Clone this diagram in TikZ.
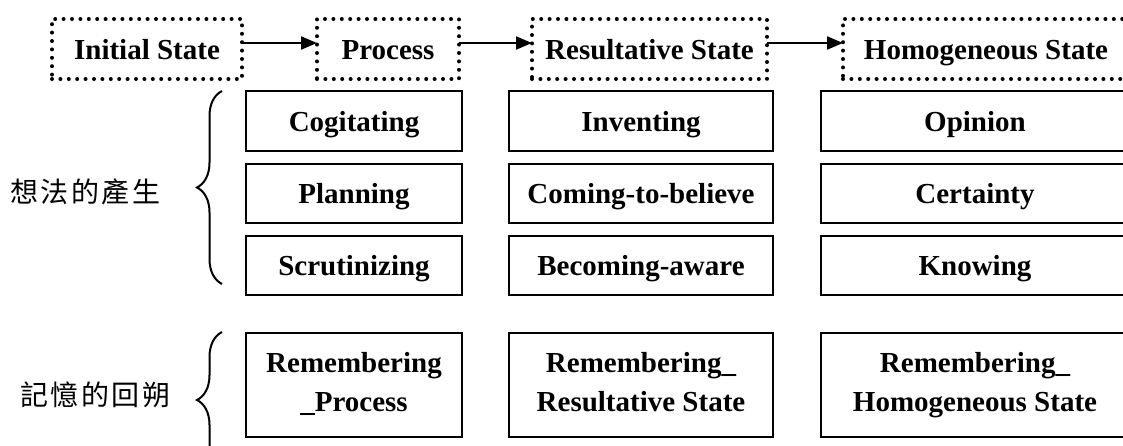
\documentclass[tikz,border=0pt]{standalone}
\usepackage{fontspec}
\setmainfont{Liberation Serif}
\newfontfamily\cjk[LetterSpace=9]{Noto Sans CJK TC}
\usetikzlibrary{arrows.meta,decorations.pathreplacing}
\newcommand{\myline}{\vphantom{Hg\_}}
\begin{document}
\begin{tikzpicture}[x=1pt,y=-1pt,
  every node/.style={inner sep=0pt, outer sep=0pt},
  txt/.style={font=\bfseries\fontsize{29}{39}\selectfont, align=center},
  one/.style={text height=20pt, text depth=0pt},
  dotbox/.style={txt, one, draw, line width=4pt, line cap=round, dash pattern=on 0pt off 8.4pt, minimum height=60pt},
  solidbox/.style={txt, draw, line width=2pt},
  arr/.style={-{Triangle[length=16pt,width=13pt]}, line width=2pt},
  brc/.style={decorate, decoration={brace, amplitude=25pt}, line width=2pt},
  lab/.style={font=\cjk\fontsize{28}{28}\selectfont, anchor=west}]
\useasboundingbox (0,0) rectangle (1123,445);
\clip (0,0) rectangle (1123,445);
% top row
\node[dotbox, minimum width=190pt] (ini) at (147,49) {Initial State};
\node[dotbox, minimum width=142pt] (proc) at (388,49) {Process};
\node[dotbox, minimum width=235pt] (res) at (649.5,49) {Resultative State};
\node[dotbox, minimum width=286pt] (hom) at (986,49) {Homogeneous State};
\draw[arr] ([yshift=6pt]ini.east) -- ([yshift=6pt]proc.west);
\draw[arr] ([yshift=6pt]proc.east) -- ([yshift=6pt]res.west);
\draw[arr] ([yshift=6pt]res.east) -- ([yshift=6pt]hom.west);
% column 1
\node[solidbox, one, minimum width=216pt, minimum height=60pt] (c1a) at (354,121) {Cogitating};
\node[solidbox, one, minimum width=216pt, minimum height=59pt] (c1b) at (354,193.5) {Planning};
\node[solidbox, one, minimum width=216pt, minimum height=59pt] (c1c) at (354,265.5) {Scrutinizing};
\node[solidbox, minimum width=216pt, minimum height=104pt] (c1d) at (354,385) {\myline Remembering\\\myline\_Process};
% column 2
\node[solidbox, one, minimum width=264pt, minimum height=60pt] (c2a) at (641,121) {Inventing};
\node[solidbox, one, minimum width=264pt, minimum height=59pt] (c2b) at (641,193.5) {Coming-to-believe};
\node[solidbox, one, minimum width=264pt, minimum height=59pt] (c2c) at (641,265.5) {Becoming-aware};
\node[solidbox, minimum width=264pt, minimum height=104pt] (c2d) at (641,385) {\myline Remembering\_\\\myline Resultative State};
% column 3
\node[solidbox, one, minimum width=308pt, minimum height=60pt] (c3a) at (975,121) {Opinion};
\node[solidbox, one, minimum width=308pt, minimum height=59pt] (c3b) at (975,193.5) {Certainty};
\node[solidbox, one, minimum width=308pt, minimum height=59pt] (c3c) at (975,265.5) {Knowing};
\node[solidbox, minimum width=308pt, minimum height=104pt] (c3d) at (975,385) {\myline Remembering\_\\\myline Homogeneous State};
% braces
\coordinate (b1bot) at (222,284);
\coordinate (b1top) at (222,91);
\coordinate (b2bot) at (222,468);
\coordinate (b2top) at (222,332);
\draw[brc] (b1bot) -- (b1top);
\draw[brc] (b2bot) -- (b2top);
% labels
\node[lab] (l1) at (10,192) {想法的產生};
\node[lab] (l2) at (20,395) {記憶的回朔};
\end{tikzpicture}
\end{document}
